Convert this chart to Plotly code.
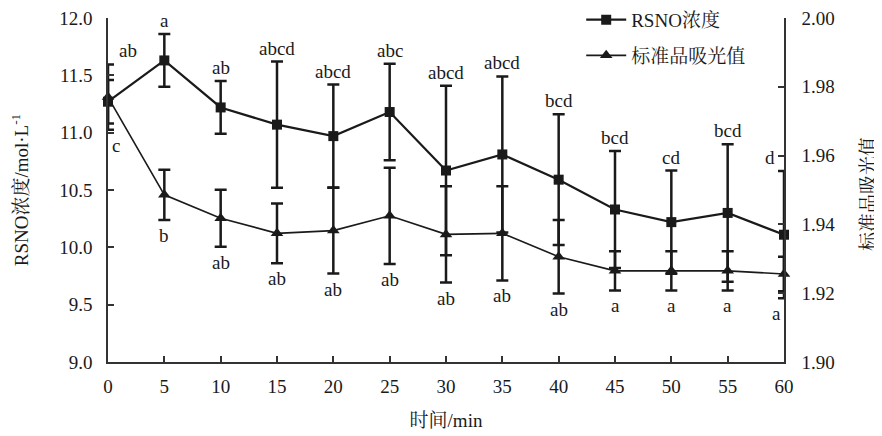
import plotly.graph_objects as go

# ---------------- data ----------------
time_min = [0, 5, 10, 15, 20, 25, 30, 35, 40, 45, 50, 55, 60]

rsno = [11.27, 11.63, 11.22, 11.07, 10.97, 11.18, 10.67, 10.81, 10.59, 10.33, 10.22, 10.30, 10.11]
rsno_err = [0.19, 0.23, 0.23, 0.55, 0.45, 0.42, 0.74, 0.68, 0.57, 0.51, 0.45, 0.60, 0.555]

absorb = [1.9770, 1.9486, 1.9418, 1.9374, 1.9382, 1.9425, 1.9371, 1.9374, 1.9306, 1.9265, 1.9265, 1.9265, 1.9256]
absorb_err = [0.0095, 0.0073, 0.0083, 0.0087, 0.0125, 0.0140, 0.0140, 0.0137, 0.0107, 0.0057, 0.0057, 0.0057, 0.0050]

rsno_labels = ["ab", "a", "ab", "abcd", "abcd", "abc", "abcd", "abcd", "bcd", "bcd", "cd", "bcd", "d"]
absorb_labels = ["c", "b", "ab", "ab", "ab", "ab", "ab", "ab", "ab", "a", "a", "a", "a"]

right_title = "标准品吸光值"

Y_RANGE = [9.0, 12.0]
Y2_RANGE = [1.90, 2.00]

FONT = "Liberation Serif, Times New Roman, Noto Serif CJK SC, Noto Sans CJK SC, serif"
INK = "#1a1a1a"


def y2_to_y(v):
    return Y_RANGE[0] + (v - Y2_RANGE[0]) * (Y_RANGE[1] - Y_RANGE[0]) / (Y2_RANGE[1] - Y2_RANGE[0])


fig = go.Figure()

fig.add_trace(go.Scatter(
    x=time_min, y=rsno, name="RSNO浓度", mode="lines+markers",
    line=dict(color=INK, width=2.2),
    marker=dict(symbol="square", size=10, color=INK),
    error_y=dict(type="data", array=rsno_err, color=INK, thickness=2.5, width=6),
    cliponaxis=False, legendgroup="a",
))
fig.add_trace(go.Scatter(
    x=time_min, y=absorb, name="标准品吸光值", mode="lines+markers", yaxis="y2",
    line=dict(color=INK, width=1.6),
    marker=dict(symbol="triangle-up", size=11, color=INK),
    error_y=dict(type="data", array=absorb_err, color=INK, thickness=2.5, width=6),
    cliponaxis=False, legendgroup="b",
))

annotations = []
n = len(time_min)
for i in range(n):
    sq_up = rsno[i] + rsno_err[i]
    sq_lo = rsno[i] - rsno_err[i]
    tr_up = y2_to_y(absorb[i] + absorb_err[i])
    tr_lo = y2_to_y(absorb[i] - absorb_err[i])
    xs_top = 0
    xs_bot = 0
    if i == 0:
        xs_top, xs_bot = 20, 8
    if i == n - 1:
        xs_top, xs_bot = -14, -8
    annotations.append(dict(
        x=time_min[i], y=max(sq_up, tr_up), xref="x", yref="y",
        text=rsno_labels[i], showarrow=False, yanchor="bottom", yshift=1,
        xshift=xs_top, font=dict(family=FONT, size=19, color=INK)))
    annotations.append(dict(
        x=time_min[i], y=min(sq_lo, tr_lo), xref="x", yref="y",
        text=absorb_labels[i], showarrow=False, yanchor="top", yshift=-3,
        xshift=xs_bot, font=dict(family=FONT, size=19, color=INK)))

# right-axis title as a rotated annotation (keeps it inside the window)
annotations.append(dict(
    x=1, y=0.5, xref="paper", yref="paper", text=right_title, showarrow=False,
    textangle=-90, xanchor="center", yanchor="middle", xshift=84, yshift=-4,
    font=dict(family=FONT, size=19, color=INK)))

axis_common = dict(
    showline=True, linecolor="#333", linewidth=1.5,
    ticks="inside", ticklen=6, tickwidth=1.5, tickcolor="#333",
    showgrid=False, zeroline=False, automargin=False, ticklabeloverflow="allow",
    tickfont=dict(family=FONT, size=19, color=INK),
)

# The page body has an 8px default margin, so the figure is sized to
# fill the remaining 874x428 area of the 882x436 window.
fig.update_layout(
    width=874, height=428,
    margin=dict(l=100, r=98, t=10, b=74, autoexpand=False),
    paper_bgcolor="white", plot_bgcolor="white",
    font=dict(family=FONT, size=19, color=INK),
    xaxis=dict(range=[0, 60], dtick=5, tick0=0, ticklabelstandoff=6,
               title=dict(text="时间/min", standoff=18, font=dict(family=FONT, size=19)),
               **axis_common),
    yaxis=dict(range=Y_RANGE, dtick=0.5, tick0=9, tickformat=".1f", ticklabelstandoff=10,
               title=dict(text="RSNO浓度/mol·L<sup>-1</sup>", standoff=26, font=dict(family=FONT, size=19)),
               **axis_common),
    yaxis2=dict(range=Y2_RANGE, dtick=0.02, tick0=1.9, tickformat=".2f", overlaying="y", side="right",
                anchor="x", ticklabelstandoff=12,
                **axis_common),
    legend=dict(x=0.700, y=1.05, xanchor="left", yanchor="top", bgcolor="rgba(0,0,0,0)",
                font=dict(family=FONT, size=19, color=INK), tracegroupgap=8, itemwidth=40),
    showlegend=True,
    annotations=annotations,
)

fig.write_html("out.html")
